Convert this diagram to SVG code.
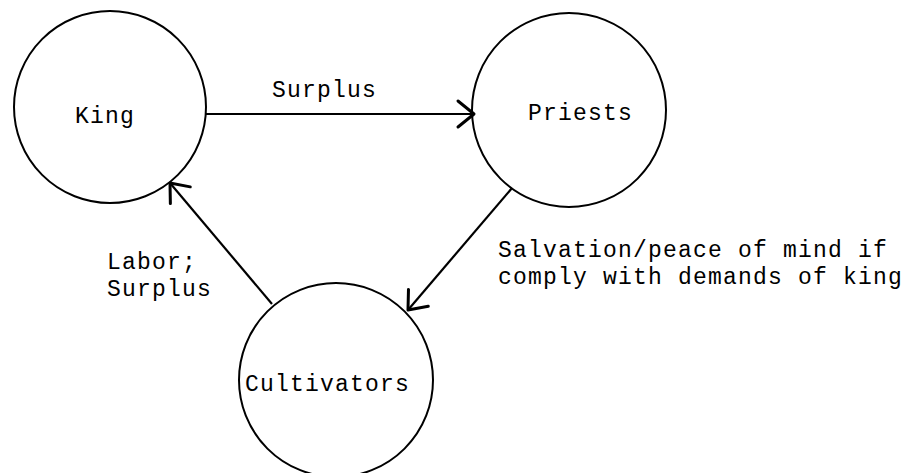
<svg xmlns="http://www.w3.org/2000/svg" width="914" height="473" viewBox="0 0 914 473">
<defs>
<style>
.node circle{fill:none;stroke:#000;stroke-width:2}
text{font-family:"Liberation Mono","DejaVu Sans Mono",monospace;font-size:23px;letter-spacing:1.2px;fill:#000}
.conn line{stroke:#000;stroke-width:2.2;fill:none}
</style>
<marker id="arr" markerUnits="userSpaceOnUse" markerWidth="40" markerHeight="40" viewBox="-20 -20 40 40" refX="0" refY="0" orient="auto">
<path d="M-16,-13 L0,0 L-16,13" fill="none" stroke="#000" stroke-width="3" stroke-linecap="round" stroke-linejoin="round"/>
</marker>
</defs>
<rect width="914" height="473" fill="#fff"/>
<g id="king" class="node">
<circle cx="110" cy="107" r="96"/>
<text x="75" y="123">King</text>
</g>
<g id="priests" class="node">
<circle cx="569" cy="110" r="97"/>
<text x="528" y="120">Priests</text>
</g>
<g id="cultivators" class="node">
<circle cx="336" cy="380" r="97"/>
<text x="245" y="391">Cultivators</text>
</g>
<g id="connectors" class="conn">
<line x1="206" y1="114" x2="474" y2="114" marker-end="url(#arr)"/>
<line x1="512" y1="188" x2="408" y2="310" marker-end="url(#arr)"/>
<line x1="272" y1="304" x2="170" y2="183" marker-end="url(#arr)"/>
</g>
<g id="labels">
<text x="272" y="97">Surplus</text>
<text x="107" y="269">Labor;</text>
<text x="107" y="296">Surplus</text>
<text x="498" y="257">Salvation/peace of mind if</text>
<text x="498" y="284">comply with demands of king</text>
</g>
</svg>
